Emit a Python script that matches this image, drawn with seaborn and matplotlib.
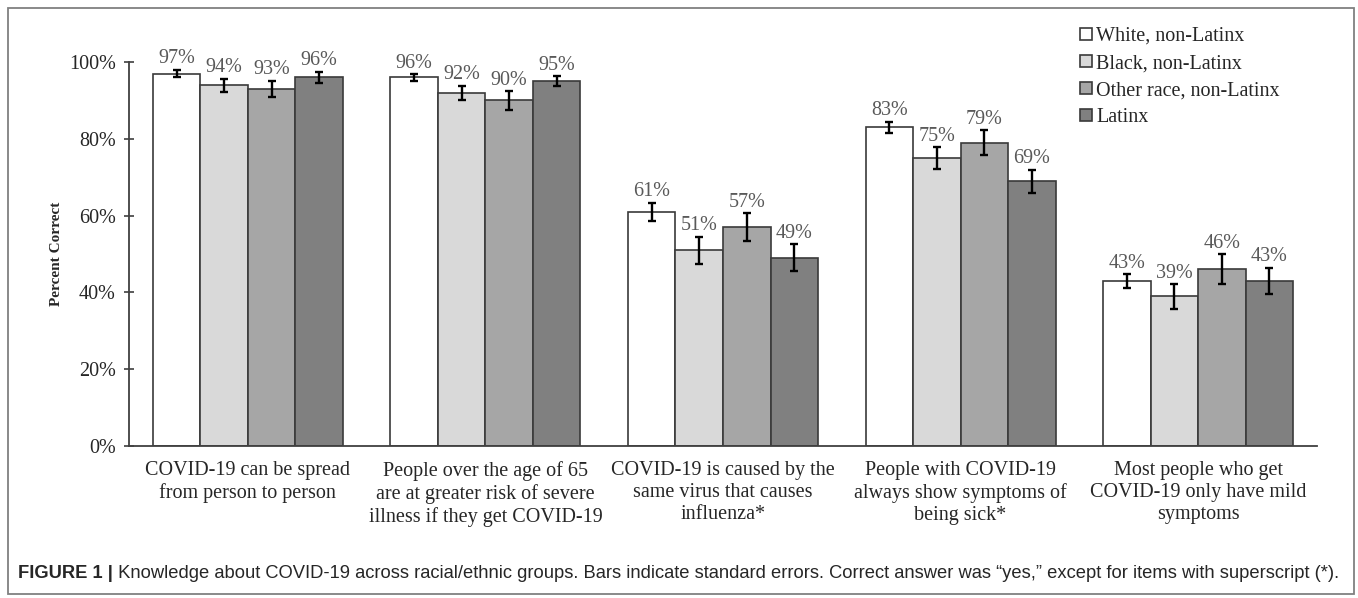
import matplotlib
matplotlib.use("Agg")
import matplotlib.pyplot as plt
from matplotlib.patches import Rectangle
from matplotlib.ticker import PercentFormatter
import seaborn as sns
import pandas as pd

# ---- data ----
items = [
    "COVID-19 can be spread\nfrom person to person",
    "People over the age of 65\nare at greater risk of severe\nillness if they get COVID-19",
    "COVID-19 is caused by the\nsame virus that causes\ninfluenza*",
    "People with COVID-19\nalways show symptoms of\nbeing sick*",
    "Most people who get\nCOVID-19 only have mild\nsymptoms",
]
groups = ["White, non-Latinx", "Black, non-Latinx", "Other race, non-Latinx", "Latinx"]
white = [97, 96, 61, 83, 43]
black = [94, 92, 51, 75, 39]
other = [93, 90, 57, 79, 46]
latinx = [96, 95, 49, 69, 43]
white_se = [1.0, 0.9, 2.4, 1.5, 1.8]
black_se = [1.7, 1.8, 3.5, 2.8, 3.2]
other_se = [2.1, 2.4, 3.7, 3.3, 3.9]
latinx_se = [1.5, 1.3, 3.5, 3.0, 3.4]
colors = ["#FFFFFF", "#D9D9D9", "#A6A6A6", "#808080"]
y_label = "Percent Correct"
caption_bold = "FIGURE 1 |"
caption_text = (" Knowledge about COVID-19 across racial/ethnic groups. Bars indicate standard errors. "
                "Correct answer was \u201cyes,\u201d except for items with superscript (*).")

values = [white, black, other, latinx]
errors = [white_se, black_se, other_se, latinx_se]

rows = []
for g, vals in zip(groups, values):
    for it, v in zip(items, vals):
        rows.append({"item": it, "group": g, "value": v})
df = pd.DataFrame(rows)

sns.set_style("white")
plt.rcParams["font.family"] = ["Liberation Serif", "DejaVu Serif"]

W, H = 1358, 598
fig = plt.figure(figsize=(W / 100, H / 100), dpi=100)
ax = fig.add_axes([129 / W, (H - 446) / H, 1188 / W, 384 / H])

sns.barplot(data=df, x="item", y="value", hue="group", order=items, hue_order=groups,
            palette=colors, edgecolor="#3a3a3a", linewidth=1.2, width=0.8,
            errorbar=None, ax=ax, saturation=1)

for cont, errs, vals in zip(ax.containers, errors, values):
    xs = [p.get_x() + p.get_width() / 2 for p in cont.patches]
    ax.errorbar(xs, vals, yerr=errs, fmt="none", ecolor="black",
                elinewidth=1.7, capsize=2.8, capthick=1.7, zorder=5)
    for x, v, e in zip(xs, vals, errs):
        ax.annotate(f"{v}%", (x, v + e), xytext=(0, 1), textcoords="offset points",
                    ha="center", va="bottom", color="#595959", fontsize=14.5)

ax.set_xlim(-0.5, 4.5)
ax.set_ylim(0, 100)
ax.set_yticks([0, 20, 40, 60, 80, 100])
ax.yaxis.set_major_formatter(PercentFormatter(100, decimals=0))
ax.set_xlabel("")
ax.set_ylabel(y_label, fontsize=11, fontweight="bold", labelpad=4)
ax.tick_params(axis="y", direction="inout", length=7, width=1.2, color="#404040",
               labelsize=14.5, pad=6, left=True)
ax.tick_params(axis="x", length=0, labelsize=14.5, pad=11)
for lab in ax.get_xticklabels():
    lab.set_linespacing(1.2)
for s in ["top", "right"]:
    ax.spines[s].set_visible(False)
for s in ["left", "bottom"]:
    ax.spines[s].set_color("#404040")
    ax.spines[s].set_linewidth(1.3)

handles, labels = ax.get_legend_handles_labels()
ax.get_legend().remove()
fig.legend(handles, labels, loc="upper left", bbox_to_anchor=(1080 / W, 1 - 27 / H),
           frameon=False, fontsize=14.5, handlelength=0.6, handleheight=0.6,
           handletextpad=0.2, labelspacing=0.4, borderpad=0, borderaxespad=0)

# figure frame
fig.add_artist(Rectangle((8 / W, 4 / H), (1354 - 8) / W, (590 - 4) / H,
                         transform=fig.transFigure, fill=False,
                         edgecolor="#808080", linewidth=1.3))

# caption
t1 = fig.text(18 / W, 1 - 573 / H, caption_bold, fontsize=13.2, fontweight="bold",
              family=["Liberation Sans", "DejaVu Sans"], va="center", ha="left")
fig.canvas.draw()
bb = t1.get_window_extent()
fig.text(bb.x1 / W, 1 - 573 / H, caption_text, fontsize=13.2,
         family=["Liberation Sans", "DejaVu Sans"], va="center", ha="left")

fig.savefig("out.png", dpi=100)
